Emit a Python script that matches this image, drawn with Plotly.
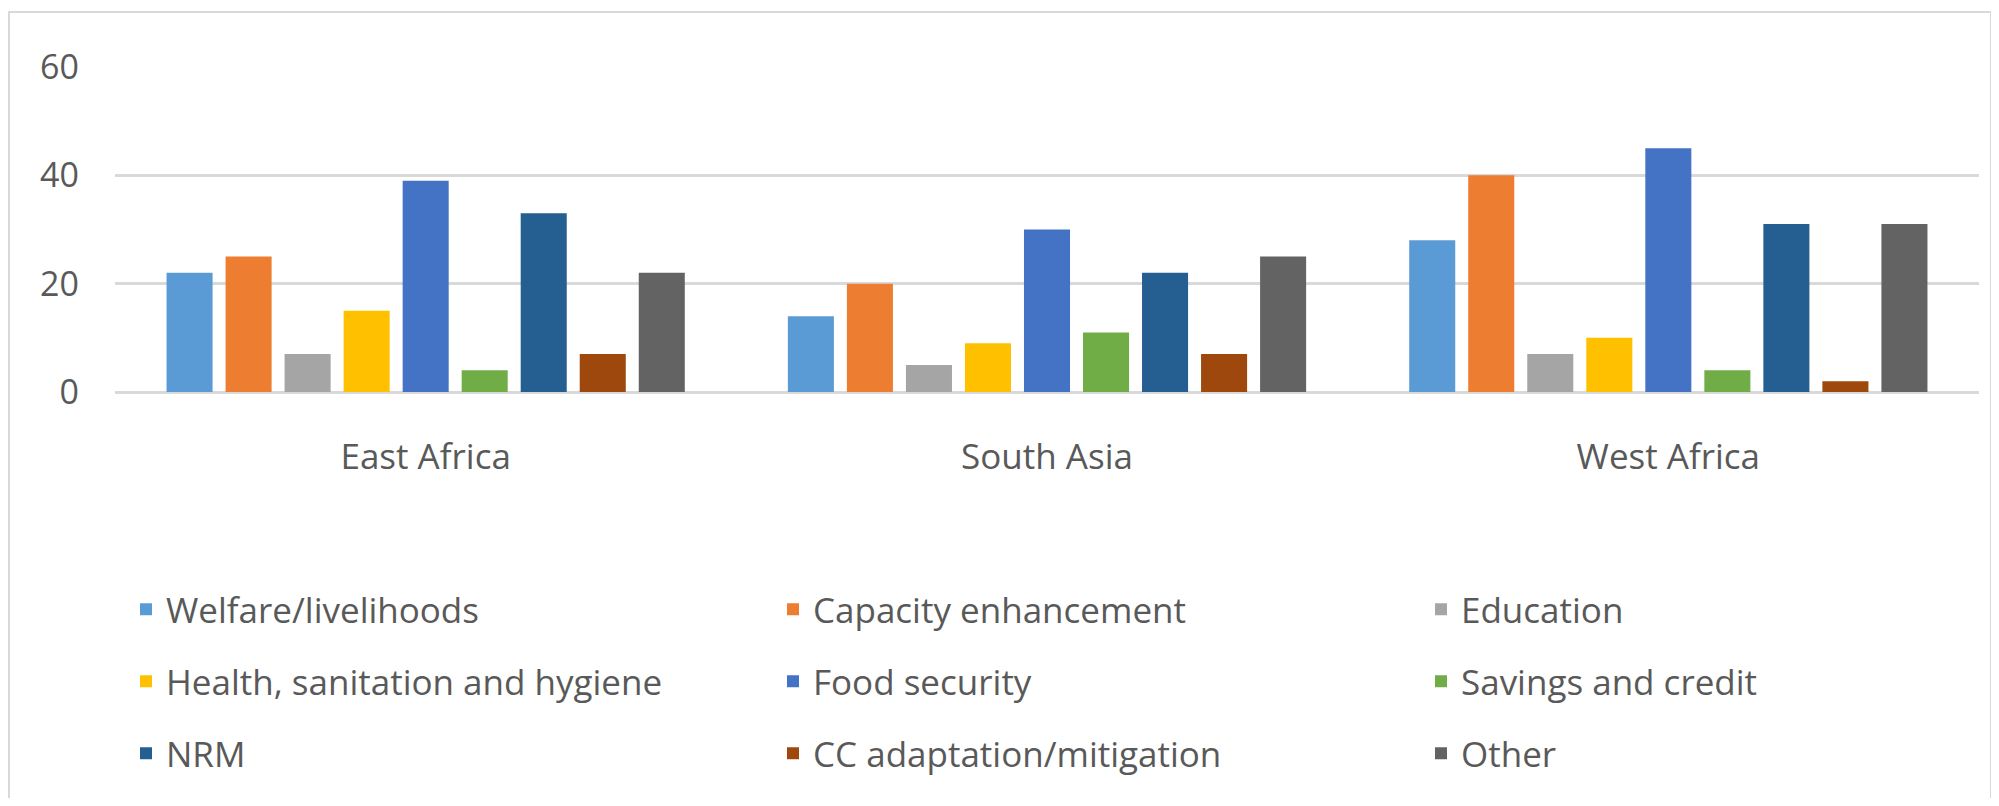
import plotly.graph_objects as go

regions = ["East Africa", "South Asia", "West Africa"]
series_names = [
    "Welfare/livelihoods", "Capacity enhancement", "Education",
    "Health, sanitation and hygiene", "Food security", "Savings and credit",
    "NRM", "CC adaptation/mitigation", "Other",
]
welfare = [22, 14, 28]
capacity = [25, 20, 40]
education = [7, 5, 7]
health = [15, 9, 10]
food = [39, 30, 45]
savings = [4, 11, 4]
nrm = [33, 22, 31]
cc = [7, 7, 2]
other = [22, 25, 31]
series_values = [welfare, capacity, education, health, food, savings, nrm, cc, other]
colors = ["#5B9BD5", "#ED7D31", "#A5A5A5", "#FFC000", "#4472C4",
          "#70AD47", "#255E91", "#9E480E", "#636363"]
y_ticks = [0, 20, 40, 60]

FONT = "Open Sans, Noto Sans, sans-serif"
TXT = "#595959"

# page body has an 8px margin; work in page coordinates and convert
OFF = 8
W, H = 1999 - 2 * OFF, 806 - 2 * OFF
plot_left, plot_right, plot_top, plot_bottom = 115, 1979, 67, 392
L = plot_left - OFF
R = W - (plot_right - OFF)
T = plot_top - OFF
B = H - (plot_bottom - OFF)
pw, ph = W - L - R, H - T - B

def px_x(x):
    return (x - OFF - L) / pw

def px_y(y):
    return (H - B - (y - OFF)) / ph

fig = go.Figure()
legend_ids = ["legend", "legend2", "legend3"]
for i, (name, vals, col) in enumerate(zip(series_names, series_values, colors)):
    fig.add_trace(go.Bar(
        x=regions, y=vals, name=name, marker=dict(color=col, line=dict(width=0)),
        legend=legend_ids[i % 3], legendgroup=name,
    ))

col_text_x = [166, 813, 1461]
legend_common = dict(
    orientation="v", traceorder="grouped", tracegroupgap=23.5,
    font=dict(family=FONT, size=35, color=TXT),
    bgcolor="rgba(0,0,0,0)", borderwidth=0,
    xanchor="left", yanchor="top", y=px_y(580),
    itemwidth=30,
)
layout_legends = {}
for k, lid in enumerate(legend_ids):
    layout_legends[lid] = dict(legend_common, x=px_x(col_text_x[k] - 40))

fig.update_layout(
    width=W, height=H,
    margin=dict(l=L, r=R, t=T, b=B, autoexpand=False),
    paper_bgcolor="white", plot_bgcolor="white",
    barmode="group", bargap=0.145, bargroupgap=0.22,
    font=dict(family=FONT, color=TXT),
    showlegend=True,
    **layout_legends,
)
fig.update_yaxes(
    range=[0, 60], tickvals=y_ticks, ticktext=[str(v) for v in y_ticks],
    showgrid=True, gridcolor="#d9d9d9", gridwidth=2.5,
    zeroline=True, zerolinecolor="#d9d9d9", zerolinewidth=2.5,
    showline=False, ticks="", ticklabelstandoff=35,
    tickfont=dict(family=FONT, size=34, color=TXT),
)
fig.update_xaxes(
    showgrid=False, showline=False, ticks="", ticklabelstandoff=41,
    tickfont=dict(family=FONT, size=35, color=TXT),
)
fig.add_shape(
    type="rect", xref="paper", yref="paper",
    x0=px_x(9), x1=px_x(1991), y0=px_y(812), y1=px_y(12),
    line=dict(color="#d9d9d9", width=2), fillcolor="rgba(0,0,0,0)", layer="below",
)

fig.write_html("out.html")
